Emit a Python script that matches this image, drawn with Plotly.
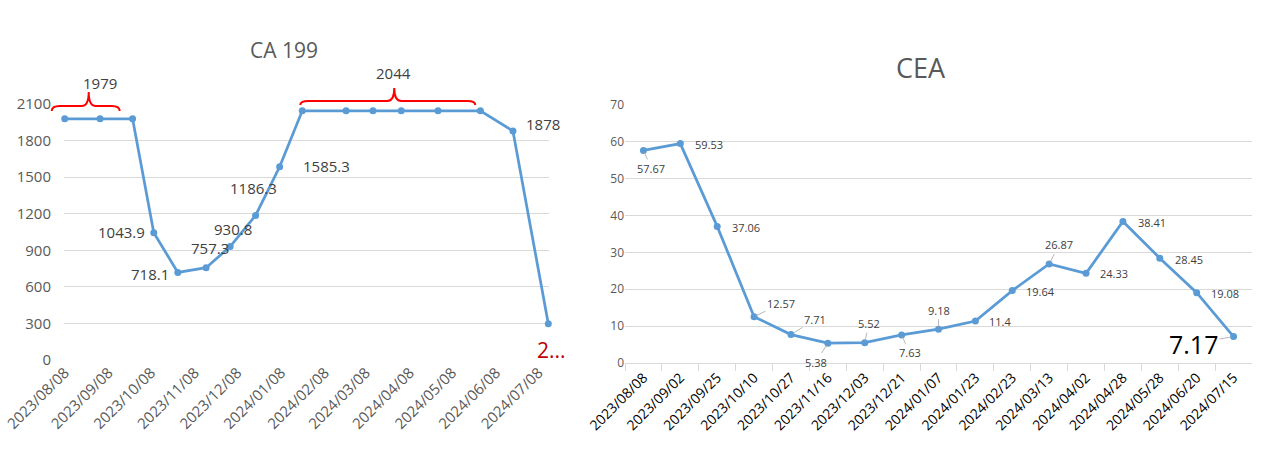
import plotly.graph_objects as go
import pandas as pd

# ---------------- data ----------------
dates = ["2023/08/08", "2023/09/02", "2023/09/25", "2023/10/10", "2023/10/27",
         "2023/11/16", "2023/12/03", "2023/12/21", "2024/01/07", "2024/01/23",
         "2024/02/23", "2024/03/13", "2024/04/02", "2024/04/28", "2024/05/28",
         "2024/06/20", "2024/07/15"]
ca199 = [1979, 1979, 1979, 1043.9, 718.1, 757.3, 930.8, 1186.3, 1585.3,
         2044, 2044, 2044, 2044, 2044, 2044, 1878, 298]
cea = [57.67, 59.53, 37.06, 12.57, 7.71, 5.38, 5.52, 7.63, 9.18, 11.4,
       19.64, 26.87, 24.33, 38.41, 28.45, 19.08, 7.17]
ca_ticks = ["2023/08/08", "2023/09/08", "2023/10/08", "2023/11/08", "2023/12/08",
            "2024/01/08", "2024/02/08", "2024/03/08", "2024/04/08", "2024/05/08",
            "2024/06/08", "2024/07/08"]
ca_yticks = [0, 300, 600, 900, 1200, 1500, 1800, 2100]
cea_yticks = [0, 10, 20, 30, 40, 50, 60, 70]

iso = lambda s: s.replace("/", "-")
dates_iso = [iso(d) for d in dates]

W, H = 1270, 457
FONT = "Open Sans"
BLUE = "#5B9BD5"
GRID = "#d9d9d9"
AX = "#595959"
LBL = "#404040"

X1_DOM = [64 / W, 549 / W]
X1_RANGE = ["2023-08-07 12:00", "2024-07-15 12:00"]
Y1_DOM = [1 - 360 / H, 1 - 104 / H]

fig = go.Figure()
fig.add_trace(go.Scatter(x=dates_iso, y=ca199, mode="lines+markers",
                         line=dict(color=BLUE, width=2.75), marker=dict(color=BLUE, size=7),
                         xaxis="x", yaxis="y", showlegend=False, hoverinfo="skip",
                         cliponaxis=False))
fig.add_trace(go.Scatter(x=dates, y=cea, mode="lines+markers",
                         line=dict(color=BLUE, width=2.75), marker=dict(color=BLUE, size=7),
                         xaxis="x2", yaxis="y2", showlegend=False, hoverinfo="skip"))

annotations = []
shapes = []

# ---- CA199 individual labels: index -> (xanchor, xshift, yshift)
ca_style = {
    3: ("right", -7, 1),
    4: ("right", -7, -2),
    5: ("center", 4, 20),
    6: ("center", 3, 18),
    7: ("center", -2, 27),
    8: ("left", 21, 1),
    15: ("left", 11, 7),
}
for i, (xa, xs, ys) in ca_style.items():
    annotations.append(dict(x=dates_iso[i], y=ca199[i], xref="x", yref="y",
                            text=f"{ca199[i]:g}", showarrow=False, xanchor=xa,
                            xshift=xs, yshift=ys, font=dict(family=FONT, size=15, color=LBL)))
# truncated last label
last = len(ca199) - 1
annotations.append(dict(x=dates_iso[last], y=ca199[last], xref="x", yref="y",
                        text=f"{ca199[last]:g}"[0] + "...", showarrow=False,
                        xanchor="center", xshift=3, yshift=-26,
                        font=dict(family=FONT, size=21, color="#C00000")))


# ---- group labels with red braces (drawn in paper space so they are not clipped)
def date_to_paper(d):
    t0, t1 = pd.Timestamp(X1_RANGE[0]), pd.Timestamp(X1_RANGE[1])
    f = (pd.Timestamp(d) - t0) / (t1 - t0)
    return X1_DOM[0] + f * (X1_DOM[1] - X1_DOM[0])


def brace(anchor_date, L, C, R, flat, peak, end):
    p = (f"M {L},{end} Q {L},{flat} {L+8},{flat} L {C-7},{flat} "
         f"Q {C},{flat} {C},{peak} Q {C},{flat} {C+7},{flat} "
         f"L {R-8},{flat} Q {R},{flat} {R},{end}")
    return dict(type="path", xref="paper", yref="paper", xsizemode="pixel", ysizemode="pixel",
                xanchor=date_to_paper(anchor_date), yanchor=Y1_DOM[1], path=p,
                line=dict(color="#FF0000", width=2))


shapes.append(brace(dates_iso[0], -13, 24, 55, -2, 12, -7))
shapes.append(brace(dates_iso[9], -2, 92, 173, 3, 16, -1))
annotations.append(dict(x=dates_iso[0], y=2100, xref="x", yref="y", text=f"{ca199[0]:g}",
                        showarrow=False, xshift=35, yshift=21,
                        font=dict(family=FONT, size=15, color=LBL)))
annotations.append(dict(x=dates_iso[9], y=2100, xref="x", yref="y", text=f"{ca199[9]:g}",
                        showarrow=False, xshift=91, yshift=31,
                        font=dict(family=FONT, size=15, color=LBL)))

# ---- CEA labels: ("L", xshift, yshift) plain left-anchored, ("A", ax, ay) with leader line
cea_style = [("A", 8, 18), ("L", 13, -1), ("L", 13, -1), ("A", 27, -13), ("A", 24, -15),
             ("A", -12, 19), ("A", 4, -19), ("A", 8, 18), ("A", 0, -19), ("L", 12, -1),
             ("L", 12, -1), ("A", 10, -19), ("L", 12, 0), ("L", 13, -1), ("L", 13, -1),
             ("L", 12, -1), ("B", -40, 7)]
for i, (kind, a, b) in enumerate(cea_style):
    if kind == "L":
        annotations.append(dict(x=dates[i], y=cea[i], xref="x2", yref="y2", text=f"{cea[i]:g}",
                                showarrow=False, xanchor="left", xshift=a, yshift=b,
                                font=dict(family=FONT, size=11, color=LBL)))
    else:
        big = kind == "B"
        annotations.append(dict(x=dates[i], y=cea[i], xref="x2", yref="y2", text=f"{cea[i]:g}",
                                showarrow=True, arrowhead=0, arrowwidth=0.8, arrowcolor="#a6a6a6",
                                ax=a, ay=b, standoff=2,
                                font=dict(family=FONT, size=25 if big else 11,
                                          color="#000000" if big else LBL)))

# ---- titles
annotations.append(dict(x=284 / W, y=1 - 50 / H, xref="paper", yref="paper", text="CA 199",
                        xanchor="center", yanchor="middle",
                        showarrow=False, font=dict(family=FONT, size=21, color=AX)))
annotations.append(dict(x=921 / W, y=1 - 67 / H, xref="paper", yref="paper", text="CEA",
                        xanchor="center", yanchor="middle",
                        showarrow=False, font=dict(family=FONT, size=27, color=AX)))

fig.update_layout(
    width=W, height=H, autosize=False, margin=dict(l=0, r=0, t=0, b=0, autoexpand=False),
    paper_bgcolor="white", plot_bgcolor="white",
    xaxis=dict(domain=X1_DOM, type="date", range=X1_RANGE, automargin=False,
               tickvals=[iso(t) for t in ca_ticks], ticktext=ca_ticks, tickangle=-45,
               showgrid=False, showline=False, zeroline=False, ticks="",
               tickfont=dict(family=FONT, size=15, color=AX), anchor="y"),
    yaxis=dict(domain=Y1_DOM, range=[0, 2100], tickvals=ca_yticks, automargin=False,
               showgrid=True, gridcolor=GRID, gridwidth=1, zeroline=False, showline=False,
               ticks="", ticklabelstandoff=12,
               tickfont=dict(family=FONT, size=15, color=AX), anchor="x"),
    xaxis2=dict(domain=[625 / W, 1252 / W], type="category", range=[-0.5, 16.5], automargin=False,
                tickson="boundaries", ticks="outside", ticklen=7, tickcolor=GRID,
                showline=True, linecolor=GRID, linewidth=1, showgrid=False, zeroline=False,
                tickangle=-45, tickfont=dict(family=FONT, size=14, color="#000000"), anchor="y2"),
    yaxis2=dict(domain=[1 - 363 / H, 1 - 105 / H], range=[0, 70], tickvals=cea_yticks,
                automargin=False,
                showgrid=True, gridcolor=GRID, gridwidth=1, zeroline=False, showline=False,
                ticks="", tickfont=dict(family=FONT, size=12, color=AX), anchor="x2"),
    annotations=annotations, shapes=shapes,
)

fig.write_html("out.html")
